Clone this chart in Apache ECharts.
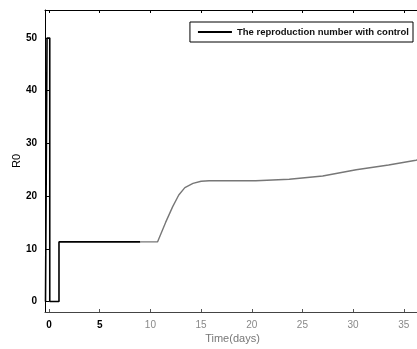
<!DOCTYPE html>
<html><head><meta charset="utf-8">
<script src="https://cdn.jsdelivr.net/npm/echarts@6/dist/echarts.min.js"></script>
<style>html,body{margin:0;padding:0;background:#fff}#c{width:417px;height:349px}</style>
</head><body><div id="c"></div>
<script>
const seriesName = 'The reproduction number with control';
const timeEarly = [-0.35, -0.2, -0.2, 0.07, 0.07, 0.98, 0.98, 5, 9];
const r0Early = [0, 0, 50, 50, 0, 0, 11.3, 11.3, 11.3];
const timeLate = [9, 10.7, 11.5, 12.2, 12.8, 13.4, 14.2, 15.0, 15.8, 18, 20.4, 23.7, 27, 30.3, 33.5, 36.2, 37];
const r0Late = [11.3, 11.3, 15.0, 18.0, 20.2, 21.6, 22.4, 22.8, 22.9, 22.9, 22.9, 23.2, 23.8, 25.0, 25.9, 26.8, 27.1];
const xTicks = [0, 5, 10, 15, 20, 25, 30, 35];
const yTicks = [0, 10, 20, 30, 40, 50];

const early = timeEarly.map((t, i) => [t, r0Early[i]]);
const late = timeLate.map((t, i) => [t, r0Late[i]]);
const chart = echarts.init(document.getElementById('c'));
const font = 'Liberation Sans, Arial, sans-serif';
chart.setOption({
  animation: false,
  backgroundColor: '#fff',
  grid: { left: 45, right: -3, top: 10, bottom: 37, outerBoundsMode: 'none', containLabel: false },
  legend: {
    right: 4, top: 22, orient: 'horizontal',
    borderColor: '#000', borderWidth: 1, borderRadius: 0,
    padding: [5, 4, 5, 8], itemWidth: 34, itemHeight: 2, itemGap: 5,
    icon: 'rect',
    textStyle: { fontFamily: font, fontSize: 9.5, fontWeight: 'bold', color: '#111' },
    data: [{ name: seriesName, itemStyle: { color: '#000' } }]
  },
  xAxis: [{
    type: 'value', min: -0.4, max: 36.6,
    name: 'Time(days)', nameLocation: 'middle', nameGap: 21, nameMoveOverlap: false,
    nameTextStyle: { fontFamily: font, fontSize: 11, color: '#777' },
    axisLine: { show: true, onZero: false, lineStyle: { color: '#444', width: 1 } },
    axisTick: { show: true, inside: true, length: 3, customValues: xTicks, lineStyle: { color: '#555' } },
    axisLabel: { customValues: xTicks, fontFamily: font, fontSize: 10, margin: 8,
      color: (v) => (v <= 5 ? '#000' : '#888'),
      formatter: (v) => (v <= 5 ? '{b|' + v + '}' : '' + v),
      rich: { b: { fontWeight: 'bold', color: '#000', fontFamily: font, fontSize: 10 } } },
    splitLine: { show: false }
  }, {
    type: 'value', position: 'top', min: -0.4, max: 36.6,
    axisLine: { show: true, onZero: false, lineStyle: { color: '#000', width: 1 } },
    axisTick: { show: true, inside: true, length: 3, customValues: xTicks, lineStyle: { color: '#000' } },
    axisLabel: { show: false }, splitLine: { show: false }
  }],
  yAxis: {
    type: 'value', min: -2, max: 55.3,
    name: 'R0', nameLocation: 'middle', nameGap: 23, nameMoveOverlap: false,
    nameTextStyle: { fontFamily: font, fontSize: 11, color: '#000' },
    axisLine: { show: true, onZero: false, lineStyle: { color: '#000', width: 1 } },
    axisTick: { show: true, inside: true, length: 4, customValues: yTicks, lineStyle: { color: '#000' } },
    axisLabel: { customValues: yTicks, fontFamily: font, fontSize: 10, fontWeight: 'bold', color: '#000', margin: 8 },
    splitLine: { show: false }
  },
  series: [{
    name: seriesName, type: 'line', data: early, showSymbol: false, symbol: 'none',
    color: '#000', lineStyle: { width: 1.6, color: '#000' }, xAxisIndex: 0
  }, {
    name: seriesName, type: 'line', data: late, showSymbol: false, symbol: 'none',
    color: '#000', lineStyle: { width: 1.4, color: '#777' }, xAxisIndex: 0
  }]
});
</script></body></html>
